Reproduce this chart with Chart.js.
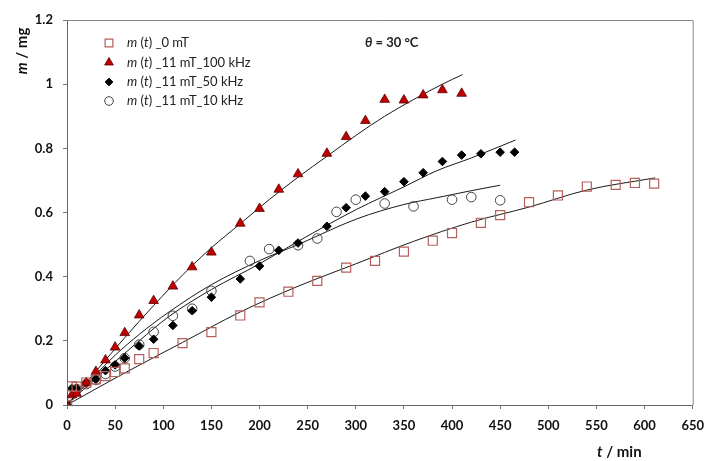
<!DOCTYPE html>
<html>
<head>
<meta charset="utf-8">
<script src="https://cdn.jsdelivr.net/npm/chart.js@4"></script>
<style>
  html, body { margin: 0; padding: 0; background: #fff; }
  #wrap { width: 713px; height: 461px; }
</style>
</head>
<body>
<div id="wrap"><canvas id="myChart" width="713" height="461"></canvas></div>
<script>
// measured points, t in min, m in mg
const t0mT = [0, 5, 10, 20, 30, 40, 50, 60, 75, 90, 120, 150, 180, 200, 230, 260, 290, 320, 350, 380, 400, 430, 450, 480, 510, 540, 570, 590, 610];
const m0mT = [0, 0.058, 0.057, 0.07, 0.08, 0.09, 0.103, 0.114, 0.143, 0.162, 0.193, 0.227, 0.279, 0.32, 0.353, 0.387, 0.428, 0.449, 0.478, 0.512, 0.536, 0.568, 0.592, 0.632, 0.653, 0.681, 0.686, 0.692, 0.69];

const t100k = [0, 5, 10, 20, 30, 40, 50, 60, 75, 90, 110, 130, 150, 180, 200, 220, 240, 270, 290, 310, 330, 350, 370, 390, 410];
const m100k = [0, 0.031, 0.036, 0.07, 0.104, 0.14, 0.18, 0.225, 0.28, 0.325, 0.37, 0.43, 0.476, 0.566, 0.612, 0.672, 0.72, 0.784, 0.836, 0.886, 0.952, 0.95, 0.966, 0.982, 0.971];

const t50k = [0, 5, 10, 20, 30, 40, 50, 60, 75, 90, 110, 130, 150, 180, 200, 220, 240, 270, 290, 310, 330, 350, 370, 390, 410, 430, 450, 465];
const m50k = [0, 0.052, 0.052, 0.068, 0.08, 0.107, 0.125, 0.146, 0.184, 0.205, 0.248, 0.294, 0.336, 0.393, 0.433, 0.482, 0.505, 0.557, 0.615, 0.651, 0.665, 0.696, 0.724, 0.759, 0.779, 0.783, 0.788, 0.788];

const t10k = [0, 5, 10, 20, 30, 40, 50, 60, 75, 90, 110, 130, 150, 190, 210, 240, 260, 280, 300, 330, 360, 400, 420, 450];
const m10k = [0, 0.04, 0.05, 0.065, 0.078, 0.097, 0.12, 0.146, 0.188, 0.228, 0.278, 0.3, 0.356, 0.449, 0.486, 0.498, 0.519, 0.602, 0.64, 0.628, 0.619, 0.64, 0.648, 0.638];

// fitted curves
const fitT0mT = [0, 60, 120, 180, 240, 300, 360, 420, 480, 540, 611];
const fitM0mT = [0, 0.1, 0.195, 0.29, 0.37, 0.44, 0.51, 0.57, 0.617, 0.67, 0.708];
const fitT100k = [0, 30, 60, 90, 120, 150, 180, 210, 240, 270, 300, 330, 360, 390, 411];
const fitM100k = [0, 0.105, 0.21, 0.31, 0.405, 0.49, 0.565, 0.64, 0.71, 0.775, 0.84, 0.9, 0.952, 1.0, 1.03];
const fitT50k = [0, 25, 50, 75, 106, 150, 200, 240, 301, 350, 384, 420, 466];
const fitM50k = [0, 0.07, 0.135, 0.2, 0.276, 0.36, 0.44, 0.51, 0.61, 0.68, 0.73, 0.77, 0.826];
const fitT10k = [0, 25, 50, 75, 106, 150, 200, 240, 301, 350, 384, 420, 450];
const fitM10k = [0, 0.08, 0.155, 0.22, 0.29, 0.375, 0.45, 0.5, 0.58, 0.625, 0.646, 0.668, 0.685];

const xTicks = [0, 650, 50];
const yTicks = [0, 1.2, 0.2];

const legendLabels = ["_0 mT", "_11 mT_100 kHz", "_11 mT_50 kHz", "_11 mT_10 kHz"];

const pts = (xs, ys) => xs.map((x, i) => ({ x: x, y: ys[i] }));

const markerStyles = [
  { pointStyle: "rect", radius: 6.4, fill: "rgba(0,0,0,0)", stroke: "#b4605c", width: 1.2 },
  { pointStyle: "triangle", radius: 5.6, fill: "#c00000", stroke: "#5a0000", width: 0.8 },
  { pointStyle: "rectRot", radius: 4.3, fill: "#000", stroke: "#000", width: 1 },
  { pointStyle: "circle", radius: 4.8, fill: "rgba(0,0,0,0)", stroke: "#444", width: 1 },
];

const markerSet = (label, data, s) => ({
  label: label,
  data: data,
  showLine: false,
  pointStyle: s.pointStyle,
  pointRadius: s.radius,
  pointBackgroundColor: s.fill,
  pointBorderColor: s.stroke,
  pointBorderWidth: s.width,
  order: 1,
});

const fitSet = (data) => ({
  label: "fit",
  data: data,
  showLine: true,
  pointRadius: 0,
  borderColor: "#1a1a1a",
  borderWidth: 1,
  cubicInterpolationMode: "monotone",
  order: 2,
});

// draw text where some pieces are italic
const drawRich = (ctx, parts, x, y, size, weight) => {
  let cx = x;
  parts.forEach((p) => {
    ctx.font = `${p[1] ? "italic " : ""}${weight} ${size}px Lato, sans-serif`;
    ctx.fillText(p[0], cx, y);
    cx += ctx.measureText(p[0]).width;
  });
  return cx - x;
};

const decorations = {
  id: "decorations",
  afterDraw(chart) {
    const ctx = chart.ctx;
    const a = chart.chartArea;
    ctx.save();
    // frame top and right
    ctx.strokeStyle = "#8a8a8a";
    ctx.lineWidth = 1;
    ctx.beginPath();
    ctx.moveTo(a.left, a.top + 0.5);
    ctx.lineTo(a.right + 0.5, a.top + 0.5);
    ctx.lineTo(a.right + 0.5, a.bottom);
    ctx.stroke();

    // legend
    ctx.textBaseline = "middle";
    const rowY = [43, 62.5, 82, 101];
    legendLabels.forEach((lab, i) => {
      const s = markerStyles[i];
      ctx.fillStyle = s.fill;
      ctx.strokeStyle = s.stroke;
      ctx.lineWidth = s.width;
      Chart.helpers.drawPoint(ctx, { pointStyle: s.pointStyle, radius: i == 0 ? 5.5 : s.radius * 0.9, borderWidth: s.width, rotation: 0 }, 109, rowY[i]);
      ctx.fillStyle = "#222";
      drawRich(ctx, [["m", true], [" (", false], ["t", true], [") " + lab, false]], 127, rowY[i], 13, "normal");
    });

    // temperature note
    drawRich(ctx, [["θ", true], [" = 30 °C", false]], 365, 43, 13, "bold");

    // axis titles
    ctx.fillStyle = "#111";
    drawRich(ctx, [["t", true], [" / min", false]], 597, 452, 15, "bold");
    ctx.translate(22, 51);
    ctx.rotate(-Math.PI / 2);
    ctx.font = "italic bold 15px Lato, sans-serif";
    const w1 = ctx.measureText("m").width;
    ctx.font = "bold 15px Lato, sans-serif";
    const w2 = ctx.measureText(" / mg").width;
    drawRich(ctx, [["m", true], [" / mg", false]], -(w1 + w2) / 2, 0, 15, "bold");
    ctx.restore();
  },
};

const tickFont = { family: "Lato, sans-serif", size: 13, weight: "bold" };

const myChart = new Chart(document.getElementById("myChart"), {
  type: "scatter",
  data: {
    datasets: [
      fitSet(pts(fitT0mT, fitM0mT)),
      fitSet(pts(fitT100k, fitM100k)),
      fitSet(pts(fitT50k, fitM50k)),
      fitSet(pts(fitT10k, fitM10k)),
      markerSet("0 mT", pts(t0mT, m0mT), markerStyles[0]),
      markerSet("11 mT 100 kHz", pts(t100k, m100k), markerStyles[1]),
      markerSet("11 mT 50 kHz", pts(t50k, m50k), markerStyles[2]),
      markerSet("11 mT 10 kHz", pts(t10k, m10k), markerStyles[3]),
    ],
  },
  options: {
    responsive: false,
    animation: false,
    layout: { padding: { top: 20, right: 13, left: 0, bottom: 0 } },
    plugins: { legend: { display: false }, tooltip: { enabled: false } },
    scales: {
      x: {
        type: "linear",
        min: xTicks[0],
        max: xTicks[1],
        ticks: { stepSize: xTicks[2], font: tickFont, color: "#111", padding: 9, maxRotation: 0 },
        grid: { drawOnChartArea: false, drawTicks: true, tickLength: 4, color: "#777" },
        border: { color: "#666", width: 1 },
        afterFit: (s) => { s.height = 56; },
      },
      y: {
        type: "linear",
        min: yTicks[0],
        max: yTicks[1],
        ticks: {
          stepSize: yTicks[2],
          font: tickFont,
          color: "#111",
          padding: 10,
          callback: (v) => String(Math.round(v * 10) / 10),
        },
        grid: { drawOnChartArea: false, drawTicks: true, tickLength: 4, color: "#777" },
        border: { color: "#666", width: 1 },
        afterFit: (s) => { s.width = 67; },
      },
    },
  },
  plugins: [decorations],
});
</script>
</body>
</html>
